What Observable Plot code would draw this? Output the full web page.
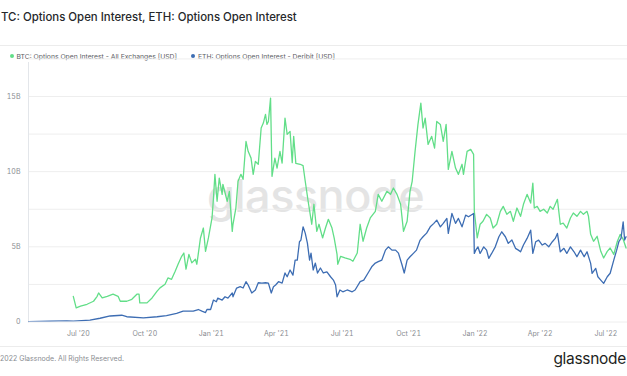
<!DOCTYPE html>
<html><head><meta charset="utf-8">
<script src="https://cdn.jsdelivr.net/npm/d3@7"></script>
<script src="https://cdn.jsdelivr.net/npm/@observablehq/plot@0.6"></script>
<style>
html,body{margin:0;padding:0;background:#fff;}
body{width:627px;height:376px;overflow:hidden;position:relative;font-family:Inter,"Noto Sans",sans-serif;}
#title{position:absolute;left:1px;top:10px;font-size:11.4px;font-weight:500;color:#26282b;white-space:nowrap;}
#sepTop{position:absolute;left:0;top:45px;width:627px;border-top:1px solid #ececec;}
#legend{position:absolute;left:0;top:51.5px;font-size:6.8px;color:#5a5d63;white-space:nowrap;}
.item{position:absolute;top:0;white-space:nowrap;}
.dot{position:absolute;top:2.3px;width:4.5px;height:4.5px;border-radius:50%;}
#watermark{position:absolute;left:0;width:627px;text-align:center;top:168px;font-size:45px;font-weight:500;color:#e4e4e4;letter-spacing:-0.5px;padding-left:2px;}
#chart{position:absolute;left:0;top:62px;}
#footer{position:absolute;left:0;top:346px;width:627px;height:30px;border-top:1px solid #ececec;}
#copy{position:absolute;left:0;top:7px;font-size:7px;color:#8a8d92;white-space:nowrap;}
#logo{position:absolute;right:1px;top:2px;font-size:15.5px;font-weight:400;color:#1d1f22;white-space:nowrap;letter-spacing:-0.3px;}
</style></head>
<body>
<div id="title">TC: Options Open Interest, ETH: Options Open Interest</div>
<div id="sepTop"></div>
<div id="legend"></div>
<div id="watermark">glassnode</div>
<div id="chart"></div>
<div id="footer"><div id="copy">2022 Glassnode. All Rights Reserved.</div><div id="logo">glassnode</div></div>
<script>
const seriesNames = ["BTC: Options Open Interest - All Exchanges [USD]", "ETH: Options Open Interest - Deribit [USD]"];
const seriesColors = ["#62de88", "#3d6db3"];

const btcDates = ["2020-06-24","2020-06-28","2020-07-04","2020-07-13","2020-07-22","2020-07-27","2020-07-29","2020-08-03","2020-08-10","2020-08-18","2020-08-25","2020-08-28","2020-09-06","2020-09-13","2020-09-20","2020-09-23","2020-09-24","2020-10-04","2020-10-11","2020-10-18","2020-10-22","2020-10-29","2020-11-02","2020-11-07","2020-11-12","2020-11-16","2020-11-21","2020-11-24","2020-11-27","2020-12-01","2020-12-05","2020-12-10","2020-12-12","2020-12-17","2020-12-21","2020-12-24","2020-12-28","2021-01-02","2021-01-04","2021-01-06","2021-01-09","2021-01-12","2021-01-16","2021-01-17","2021-01-23","2021-01-26","2021-01-30","2021-01-31","2021-02-04","2021-02-07","2021-02-11","2021-02-14","2021-02-18","2021-02-21","2021-02-25","2021-02-28","2021-03-03","2021-03-07","2021-03-11","2021-03-14","2021-03-17","2021-03-19","2021-03-21","2021-03-24","2021-03-26","2021-03-30","2021-04-02","2021-04-06","2021-04-09","2021-04-13","2021-04-16","2021-04-20","2021-04-23","2021-04-25","2021-04-28","2021-05-04","2021-05-08","2021-05-11","2021-05-15","2021-05-20","2021-05-23","2021-05-27","2021-05-30","2021-06-04","2021-06-08","2021-06-12","2021-06-17","2021-06-20","2021-06-24","2021-06-25","2021-06-29","2021-07-05","2021-07-12","2021-07-16","2021-07-22","2021-07-26","2021-07-30","2021-08-04","2021-08-09","2021-08-16","2021-08-20","2021-08-25","2021-09-01","2021-09-06","2021-09-10","2021-09-15","2021-09-20","2021-09-24","2021-09-29","2021-10-03","2021-10-06","2021-10-10","2021-10-14","2021-10-18","2021-10-21","2021-10-24","2021-10-28","2021-11-02","2021-11-06","2021-11-09","2021-11-14","2021-11-18","2021-11-22","2021-11-25","2021-11-30","2021-12-05","2021-12-09","2021-12-14","2021-12-16","2021-12-21","2021-12-26","2021-12-30","2021-12-31","2022-01-02","2022-01-04","2022-01-08","2022-01-12","2022-01-17","2022-01-22","2022-01-26","2022-01-31","2022-02-05","2022-02-09","2022-02-14","2022-02-19","2022-02-23","2022-02-28","2022-03-05","2022-03-09","2022-03-14","2022-03-19","2022-03-22","2022-03-24","2022-03-28","2022-04-01","2022-04-06","2022-04-11","2022-04-15","2022-04-19","2022-04-25","2022-04-29","2022-05-03","2022-05-08","2022-05-13","2022-05-17","2022-05-22","2022-05-27","2022-05-31","2022-06-05","2022-06-07","2022-06-10","2022-06-14","2022-06-19","2022-06-24","2022-06-28","2022-07-03","2022-07-07","2022-07-12","2022-07-17","2022-07-21","2022-07-25","2022-07-29"];
const btcValues = [1.71,0.94,1.05,1.18,1.38,1.71,1.93,1.60,1.71,1.85,1.71,1.38,1.38,1.51,1.85,1.85,1.27,1.27,1.60,2.05,2.27,2.51,2.93,2.84,3.38,3.84,4.37,4.59,3.51,4.50,3.93,4.17,3.84,5.59,6.25,4.70,5.59,6.92,8.25,9.82,8.03,9.57,8.49,9.16,8.03,8.69,6.03,6.50,7.58,9.36,9.82,9.49,12.01,11.35,10.90,9.82,10.68,10.49,12.90,13.23,13.81,13.14,13.34,14.89,9.69,10.90,10.24,11.35,10.57,13.56,12.48,12.68,10.60,12.35,10.55,10.49,10.40,9.36,8.03,6.50,7.83,6.03,6.50,5.59,6.25,6.83,6.25,5.59,4.50,3.84,4.37,4.26,4.17,4.04,4.59,6.50,5.37,6.25,6.92,7.36,8.49,8.03,8.69,8.49,8.91,8.49,7.83,6.03,6.70,8.69,9.36,11.35,13.14,14.56,12.90,13.56,11.81,12.35,11.57,13.34,13.14,12.01,13.14,10.15,11.35,10.24,9.82,10.49,9.82,11.35,11.48,11.15,7.36,6.50,5.59,6.50,6.70,7.16,6.92,6.25,6.50,7.36,7.69,7.16,7.36,6.70,7.58,7.03,7.83,8.49,7.91,9.24,7.58,7.69,7.36,7.50,7.25,7.69,7.50,8.16,6.50,6.58,6.25,6.92,7.25,7.03,7.36,7.16,7.36,7.03,5.83,5.37,5.70,4.70,4.26,4.70,4.92,4.50,5.37,5.83,5.50,4.92];

const ethDates = ["2020-04-23","2020-05-23","2020-06-15","2020-06-24","2020-07-17","2020-07-31","2020-08-14","2020-08-30","2020-09-06","2020-09-29","2020-10-18","2020-10-31","2020-11-14","2020-11-23","2020-11-30","2020-12-07","2020-12-14","2020-12-19","2020-12-24","2020-12-26","2020-12-31","2021-01-04","2021-01-08","2021-01-10","2021-01-16","2021-01-20","2021-01-24","2021-01-30","2021-01-31","2021-02-05","2021-02-10","2021-02-14","2021-02-18","2021-02-21","2021-02-26","2021-03-03","2021-03-07","2021-03-12","2021-03-17","2021-03-21","2021-03-25","2021-03-28","2021-03-31","2021-04-04","2021-04-09","2021-04-13","2021-04-16","2021-04-20","2021-04-24","2021-04-27","2021-04-30","2021-05-03","2021-05-05","2021-05-08","2021-05-11","2021-05-14","2021-05-17","2021-05-19","2021-05-22","2021-05-25","2021-05-28","2021-06-01","2021-06-05","2021-06-10","2021-06-15","2021-06-19","2021-06-22","2021-06-24","2021-06-28","2021-07-02","2021-07-08","2021-07-15","2021-07-19","2021-07-26","2021-07-31","2021-08-07","2021-08-11","2021-08-16","2021-08-20","2021-08-25","2021-08-30","2021-09-03","2021-09-08","2021-09-13","2021-09-17","2021-09-22","2021-09-25","2021-09-29","2021-10-03","2021-10-08","2021-10-12","2021-10-17","2021-10-21","2021-10-26","2021-10-31","2021-11-05","2021-11-09","2021-11-14","2021-11-18","2021-11-23","2021-11-25","2021-11-30","2021-12-05","2021-12-09","2021-12-14","2021-12-19","2021-12-23","2021-12-30","2021-12-31","2022-01-02","2022-01-05","2022-01-08","2022-01-13","2022-01-17","2022-01-20","2022-01-24","2022-01-29","2022-02-03","2022-02-07","2022-02-12","2022-02-16","2022-02-21","2022-02-26","2022-03-02","2022-03-05","2022-03-09","2022-03-14","2022-03-19","2022-03-22","2022-03-26","2022-03-30","2022-04-04","2022-04-08","2022-04-13","2022-04-18","2022-04-22","2022-04-25","2022-04-29","2022-05-04","2022-05-08","2022-05-13","2022-05-18","2022-05-22","2022-05-27","2022-06-01","2022-06-05","2022-06-10","2022-06-12","2022-06-17","2022-06-20","2022-06-24","2022-06-28","2022-07-03","2022-07-07","2022-07-12","2022-07-16","2022-07-19","2022-07-22","2022-07-25","2022-07-27","2022-07-29"];
const ethValues = [0.03,0.05,0.08,0.06,0.12,0.25,0.40,0.45,0.35,0.28,0.35,0.43,0.57,0.72,0.72,0.72,0.83,0.72,0.63,0.83,0.83,1.46,1.35,1.59,1.46,1.68,1.59,1.93,1.68,2.26,2.35,2.26,2.68,2.46,1.93,2.13,2.61,2.59,2.61,2.59,1.93,2.35,2.46,2.68,2.59,3.26,3.01,3.46,3.12,4.12,4.12,5.34,5.45,6.33,5.91,5.25,4.12,4.58,3.46,3.92,3.26,3.59,3.26,3.34,3.01,2.79,2.46,1.68,2.13,2.01,2.13,2.01,2.13,2.68,2.79,3.34,3.67,3.92,4.01,4.12,4.78,5.00,4.78,4.78,4.58,3.79,3.26,4.12,4.34,4.58,4.78,5.45,5.67,5.91,6.33,6.56,6.78,6.33,6.56,6.89,5.89,7.22,6.56,6.89,6.33,7.11,7.00,7.22,4.56,4.78,5.00,4.56,5.00,4.78,4.23,4.56,5.00,5.67,6.00,5.67,5.23,5.45,4.90,4.78,4.67,5.12,5.56,6.11,4.56,5.34,5.45,5.12,5.23,5.00,5.34,5.56,5.89,4.67,4.90,4.56,5.00,4.67,4.34,4.78,4.34,4.67,3.90,3.23,3.57,3.01,2.79,2.57,3.01,3.24,4.12,4.78,5.34,5.56,6.66,5.45,5.67];

const xDomain = ["2020-04-23", "2022-07-31"];
const yTicks = [0, 5, 10, 15];
const yTickLabels = ["0", "5B", "10B", "15B"];
const gridTicks = [0, 2.5, 5, 7.5, 10, 12.5, 15, 17.5];
const xTicks = ["2020-07-01","2020-10-01","2021-01-01","2021-04-01","2021-07-01","2021-10-01","2022-01-01","2022-04-01","2022-07-01"];
const xTickLabels = ["Jul '20","Oct '20","Jan '21","Apr '21","Jul '21","Oct '21","Jan '22","Apr '22","Jul '22"];

const parse = d3.utcParse("%Y-%m-%d");
const btc = btcDates.map((d, i) => ({date: parse(d), value: btcValues[i]}));
const eth = ethDates.map((d, i) => ({date: parse(d), value: ethValues[i]}));
const xt = xTicks.map(parse);

// legend
const legend = document.getElementById("legend");
const legendX = [[12, 16.5], [193, 198]];
seriesNames.forEach((n, i) => {
  const it = document.createElement("div");
  it.className = "item";
  it.style.left = legendX[i][1] + "px";
  it.textContent = n;
  const dot = document.createElement("div");
  dot.className = "dot";
  dot.style.background = seriesColors[i];
  dot.style.left = (legendX[i][0] - 2.25) + "px";
  legend.appendChild(dot);
  legend.appendChild(it);
});

const chart = Plot.plot({
  width: 627,
  height: 284,
  marginTop: 0,
  marginBottom: 24.5,
  marginLeft: 28,
  marginRight: 0,
  style: {background: "transparent", fontFamily: "Inter, 'Noto Sans', sans-serif", fontSize: "7px", color: "#8a8d92", overflow: "visible"},
  x: {type: "utc", domain: xDomain.map(parse)},
  y: {domain: [0, 17.26]},
  marks: [
    Plot.gridY(gridTicks, {stroke: "#eeeeee", strokeOpacity: 1}),
    Plot.frame({anchor: "left", stroke: "#e3e6ea"}),
    Plot.axisY(yTicks, {label: null, tickSize: 0, tickPadding: 8, tickFormat: (d) => yTickLabels[yTicks.indexOf(d)], fill: "#8a8d92"}),
    Plot.axisX(xt, {label: null, tickSize: 0, tickPadding: 9, tickFormat: (d) => xTickLabels[xt.findIndex(t => +t === +d)], fill: "#8a8d92"}),
    Plot.lineY(btc, {x: "date", y: "value", stroke: seriesColors[0], strokeWidth: 1.3, clip: true}),
    Plot.lineY(eth, {x: "date", y: "value", stroke: seriesColors[1], strokeWidth: 1.3, clip: true})
  ]
});
document.getElementById("chart").appendChild(chart);
</script>
</body></html>
